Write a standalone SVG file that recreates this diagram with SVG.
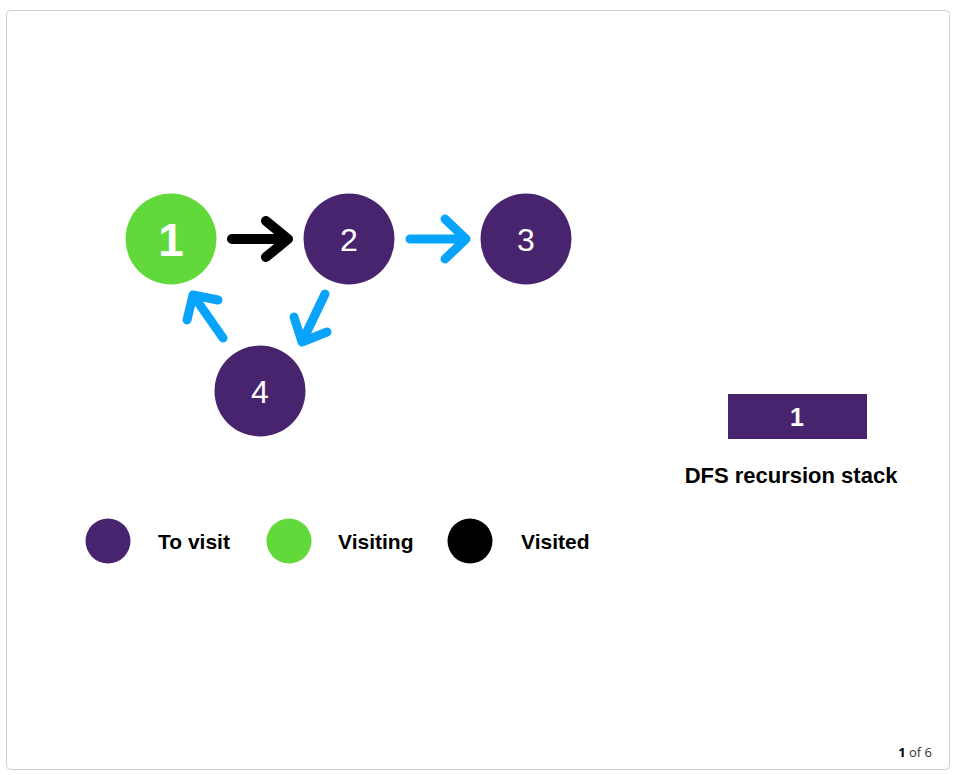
<svg xmlns="http://www.w3.org/2000/svg" width="954" height="775" viewBox="0 0 954 775">
<style>
.num{font-family:"Liberation Sans",Arial,sans-serif;fill:#fff;text-anchor:middle}
.lbl{font-family:"Liberation Sans",Arial,sans-serif;font-weight:bold;font-size:21px;fill:#000}
.todo{fill:#48246f}
.cur{fill:#62d93a}
.done{fill:#000}
.arr{fill:none;stroke-linecap:round;stroke-linejoin:round}
.blue{stroke:#08a4fc;stroke-width:9}
.black{stroke:#000;stroke-width:10}
</style>
<rect x="6.5" y="10.5" width="943" height="759" rx="4" fill="#fff" stroke="#cfcfcf" stroke-width="1"/>
<g id="connectors">
<g id="e1-2"><path class="arr black" d="M232 239 H288 M266 221 L288 239 L266 257"/></g>
<g id="e2-3"><path class="arr blue" d="M410 239 H466 M445 219 L466 239 L445 259"/></g>
<g id="e2-4"><path class="arr blue" d="M325 294 L302 342 M294 317 L302 342 L327 332"/></g>
<g id="e4-1"><path class="arr blue" d="M223 338 L193 295 M187 320 L193 295 L218 300"/></g>
</g>
<g id="node1"><circle class="cur" cx="171" cy="239" r="45.5"/><text class="num" x="171" y="256" font-size="46" font-weight="bold">1</text></g>
<g id="node2"><circle class="todo" cx="349" cy="239" r="45.5"/><text class="num" x="349" y="251" font-size="32">2</text></g>
<g id="node3"><circle class="todo" cx="526" cy="239" r="45.5"/><text class="num" x="526" y="251" font-size="32">3</text></g>
<g id="node4"><circle class="todo" cx="260" cy="391" r="45.5"/><text class="num" x="260" y="403" font-size="32">4</text></g>
<g id="stack"><rect x="728" y="394" width="139" height="45" fill="#48246f"/><text class="num" x="797" y="426" font-size="25" font-weight="bold">1</text>
<text class="lbl" x="791" y="483" text-anchor="middle" style="font-size:22px">DFS recursion stack</text></g>
<g id="legend-tovisit"><circle class="todo" cx="108" cy="541" r="22.5"/><text class="lbl" x="158" y="549">To visit</text></g>
<g id="legend-visiting"><circle class="cur" cx="289" cy="541" r="22.5"/><text class="lbl" x="338" y="549">Visiting</text></g>
<g id="legend-visited"><circle class="done" cx="470" cy="541" r="22.5"/><text class="lbl" x="521" y="549">Visited</text></g>
<text x="932" y="757" text-anchor="end" font-family="'Open Sans','Liberation Sans',sans-serif" font-size="13" fill="#333"><tspan font-weight="bold" fill="#000">1</tspan> of 6</text>
</svg>
